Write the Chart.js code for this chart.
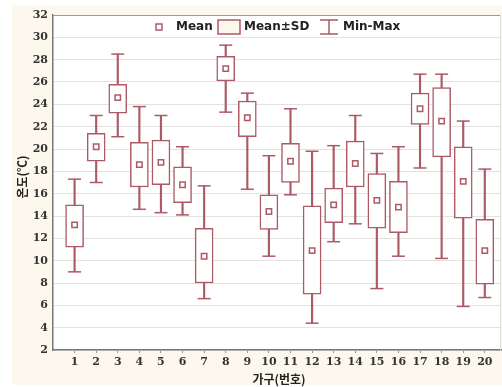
<!DOCTYPE html>
<html>
<head>
<meta charset="utf-8">
<script src="https://cdn.jsdelivr.net/npm/chart.js@4.4.1/dist/chart.umd.min.js"></script>
<style>
  html, body { margin: 0; padding: 0; background: #fff; overflow: hidden; }
  #wrap { width: 502px; height: 387px; }
</style>
</head>
<body>
<div id="wrap"><canvas id="tempBox"></canvas></div>
<script>
// household numbers
var households = [1, 2, 3, 4, 5, 6, 7, 8, 9, 10, 11, 12, 13, 14, 15, 16, 17, 18, 19, 20];
// temperature (°C)
var means  = [13.2, 20.2, 24.6, 18.6, 18.8, 16.8, 10.4, 27.2, 22.8, 14.4, 18.9, 10.9, 15.0, 18.7, 15.4, 14.8, 23.6, 22.5, 17.1, 10.9];
var sdLow  = [11.2, 18.9, 23.2, 16.6, 16.8, 15.2,  8.0, 26.1, 21.1, 12.8, 17.0,  7.0, 13.4, 16.6, 12.9, 12.5, 22.2, 19.3, 13.8,  7.9];
var sdHigh = [15.0, 21.4, 25.8, 20.6, 20.8, 18.4, 12.9, 28.3, 24.3, 15.9, 20.5, 14.9, 16.5, 20.7, 17.8, 17.1, 25.0, 25.5, 20.2, 13.7];
var mins   = [ 9.0, 17.0, 21.1, 14.6, 14.3, 14.1,  6.6, 23.3, 16.4, 10.4, 15.9,  4.4, 11.7, 13.3,  7.5, 10.4, 18.3, 10.2,  5.9,  6.7];
var maxs   = [17.3, 23.0, 28.5, 23.8, 23.0, 20.2, 16.7, 29.3, 25.0, 19.4, 23.6, 19.8, 20.3, 23.0, 19.6, 20.2, 26.7, 26.7, 22.5, 18.2];
var yTicks = [2, 4, 6, 8, 10, 12, 14, 16, 18, 20, 22, 24, 26, 28, 30, 32];

var red = '#ad5a66';
var cream = '#fdf8ee';

function pairs(a, b) {
    return households.map(function (h, i) { return { x: h, y: [a[i], b[i]] }; });
}
function points(a) {
    return households.map(function (h, i) { return { x: h, y: a[i] }; });
}

// cream page + white plot area, frame, titles, legend
var decor = {
    id: 'decor',
    beforeDraw: function (chart) {
        var c = chart.ctx, a = chart.chartArea;
        c.save();
        c.fillStyle = '#fff';
        c.fillRect(0, 0, chart.width, chart.height);
        c.fillStyle = cream;
        c.fillRect(12, 5, chart.width - 12, chart.height - 7);
        c.fillStyle = '#fff';
        c.fillRect(a.left, a.top, a.right - a.left, a.bottom - a.top);
        c.restore();
    },
    afterDraw: function (chart) {
        var c = chart.ctx, a = chart.chartArea;
        c.save();
        // top and right frame
        c.lineWidth = 1;
        c.beginPath();
        c.moveTo(a.left, a.top + 0.5);
        c.lineTo(a.right - 0.5, a.top + 0.5);
        c.strokeStyle = '#9a9a9a';
        c.stroke();
        c.beginPath();
        c.strokeStyle = '#dcdcdc';
        c.moveTo(a.right - 0.5, a.top);
        c.lineTo(a.right - 0.5, a.bottom);
        c.stroke();

        // axis titles
        c.fillStyle = '#222';
        c.font = 'bold 12px "Noto Sans CJK KR", sans-serif';
        c.textAlign = 'center';
        c.textBaseline = 'middle';
        c.fillText('가구(번호)', 279, 379);
        c.translate(22, 177);
        c.rotate(-Math.PI / 2);
        c.fillText('온도(℃)', 0, 0);
        c.setTransform(1, 0, 0, 1, 0, 0);

        // legend
        var y = 27;
        c.strokeStyle = red;
        c.lineWidth = 1.5;
        c.fillStyle = '#fff';
        c.fillRect(156, y - 3, 6, 6);
        c.strokeRect(156, y - 3, 6, 6);
        c.fillStyle = cream;
        c.fillRect(218, y - 7, 22, 14);
        c.strokeRect(218, y - 7, 22, 14);
        c.beginPath();
        c.moveTo(329, y - 7); c.lineTo(329, y + 7);
        c.moveTo(320, y - 7); c.lineTo(338, y - 7);
        c.moveTo(320, y + 7); c.lineTo(338, y + 7);
        c.stroke();
        c.fillStyle = '#222';
        c.font = 'bold 12px "DejaVu Sans", sans-serif';
        c.textAlign = 'left';
        c.fillText('Mean', 176, y);
        c.fillText('Mean\u00b1SD', 244, y);
        c.fillText('Min-Max', 343, y);
        c.restore();
    }
};

var ctx = document.getElementById('tempBox').getContext('2d');
var chart = new Chart(ctx, {
    type: 'bar',
    data: {
        datasets: [
            {   // min-max whisker stem
                label: 'Min-Max',
                data: pairs(mins, maxs),
                backgroundColor: red,
                barThickness: 1.5,
                grouped: false,
                order: 3
            },
            {   // mean ± SD box
                label: 'Mean\u00b1SD',
                data: pairs(sdLow, sdHigh),
                backgroundColor: '#fff',
                borderColor: red,
                borderWidth: 1.5,
                borderSkipped: false,
                barThickness: 18,
                grouped: false,
                order: 2
            },
            {   // whisker caps
                type: 'scatter',
                label: 'max',
                data: points(maxs),
                pointStyle: 'line',
                pointRadius: 6.5,
                borderColor: red,
                borderWidth: 1.5,
                order: 1
            },
            {
                type: 'scatter',
                label: 'min',
                data: points(mins),
                pointStyle: 'line',
                pointRadius: 6.5,
                borderColor: red,
                borderWidth: 1.5,
                order: 1
            },
            {   // mean marker
                type: 'scatter',
                label: 'Mean',
                data: points(means),
                pointStyle: 'rect',
                pointRadius: 3.8,
                backgroundColor: '#fff',
                borderColor: red,
                borderWidth: 1.5,
                order: 0
            }
        ]
    },
    options: {
        responsive: true,
        maintainAspectRatio: false,
        animation: false,
        layout: { autoPadding: false, padding: { left: 0, top: 15, right: 1, bottom: 0 } },
        plugins: { legend: { display: false }, tooltip: { enabled: false } },
        scales: {
            x: {
                type: 'linear',
                offset: false,
                min: 0,
                max: 20.75,
                afterBuildTicks: function (s) { s.ticks = households.map(function (h) { return { value: h }; }); },
                afterFit: function (s) { s.height = 37; },
                grid: { display: true, offset: false, drawOnChartArea: false, tickLength: 3, color: '#999' },
                border: { color: '#777', width: 1.5 },
                ticks: {
                    padding: 3,
                    color: '#333',
                    font: { family: 'DejaVu Serif', size: 11, weight: 'bold' }
                }
            },
            y: {
                min: 2,
                max: 32,
                afterBuildTicks: function (s) { s.ticks = yTicks.map(function (v) { return { value: v }; }); },
                afterFit: function (s) { s.width = 53; },
                grid: { color: '#e2e2e2', drawTicks: false },
                border: { color: '#777', width: 1.5 },
                ticks: {
                    padding: 5,
                    color: '#333',
                    font: { family: 'DejaVu Serif', size: 11, weight: 'bold' }
                }
            }
        }
    },
    plugins: [decor]
});
</script>
</body>
</html>
